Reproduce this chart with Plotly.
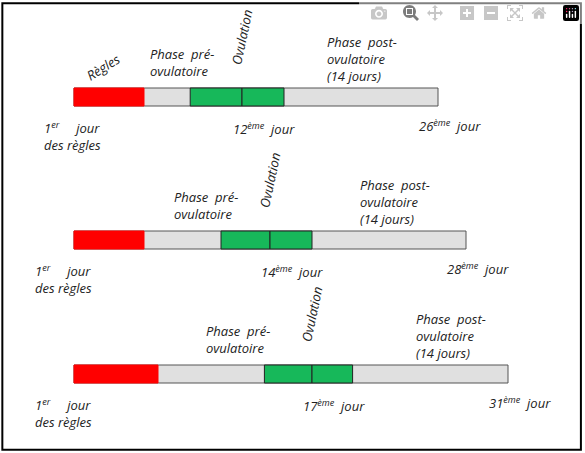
import plotly.graph_objects as go

cycle_lengths = [26, 28, 31]
ovulation_days = [12, 14, 17]
regles_days = [5, 5, 6]
fertile_before = [3.7, 3.5, 3.4]
fertile_after = [3.0, 3.0, 2.9]
row_y = [97, 240, 374]
pre_label_x = [5.3, 7.0, 9.3]
post_label_x = [17.9, 20.3, 24.3]
first_day_x = [-2.3, -2.9, -2.9]

fig = go.Figure()
FONT = dict(family="Open Sans", size=13, color="#222")
RED, GREY, GREEN = "#ff0000", "#e0e0e0", "#17b85a"
H = 9

for i, L in enumerate(cycle_lengths):
    y = row_y[i]
    ov = ovulation_days[i]
    segs = [(0, L, GREY, "#555"), (0, regles_days[i], RED, RED),
            (ov - fertile_before[i], ov, GREEN, "#222"), (ov, ov + fertile_after[i], GREEN, "#222")]
    for x0, x1, fc, lc in segs:
        fig.add_shape(type="rect", x0=x0, x1=x1, y0=y - H, y1=y + H,
                      fillcolor=fc, line=dict(color=lc, width=1))
    if i == 0:
        fig.add_annotation(x=2.1, y=y - 30, text="<i>Règles</i>", textangle=-32, showarrow=False, font=FONT)
    fig.add_annotation(x=pre_label_x[i], y=y - 35, text="<i>Phase  pré-<br>ovulatoire</i>", xanchor="left",
                       showarrow=False, font=FONT, align="left")
    fig.add_annotation(x=ov, y=y - 60, text="<i>Ovulation</i>", textangle=-78, showarrow=False, font=FONT)
    fig.add_annotation(x=post_label_x[i], y=y - 38, text="<i>Phase  post-<br>ovulatoire<br>(14 jours)</i>",
                       xanchor="left", showarrow=False, font=FONT, align="left")
    fig.add_annotation(x=first_day_x[i], y=y + 39, text="<i>1<sup>er</sup>     jour<br>des règles</i>",
                       xanchor="left", showarrow=False, font=FONT, align="left")
    fig.add_annotation(x=ov - 0.8, y=y + 31, text=f"<i>{ov}<sup>ème</sup>  jour</i>", xanchor="left",
                       showarrow=False, font=FONT)
    fig.add_annotation(x=L - 1.5, y=y + 28, text=f"<i>{L}<sup>ème</sup>  jour</i>", xanchor="left",
                       showarrow=False, font=FONT)

fig.add_shape(type="rect", xref="paper", yref="paper", x0=0.004, x1=0.993, y0=0.007, y1=0.993,
              line=dict(color="black", width=2))

fig.update_xaxes(range=[-74 / 14, (585 - 74) / 14], visible=False)
fig.update_yaxes(range=[453, 0], visible=False)
fig.update_layout(width=585, height=453, margin=dict(l=0, r=0, t=0, b=0),
                  plot_bgcolor="white", paper_bgcolor="white", showlegend=False)
fig.write_html("out.html", post_script="document.body.style.margin='0';document.body.style.overflow='hidden';")
